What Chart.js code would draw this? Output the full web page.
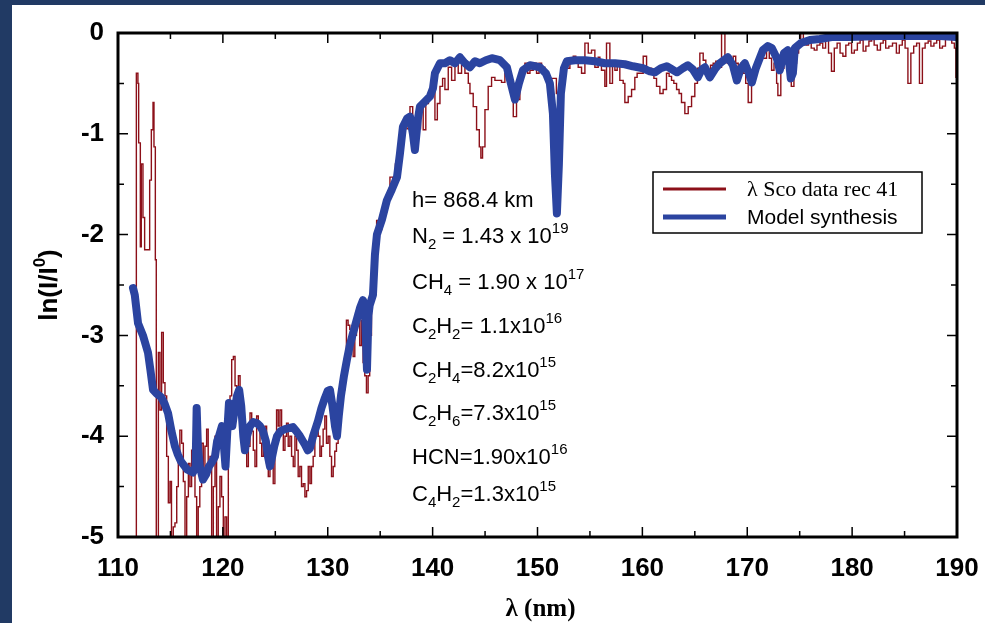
<!DOCTYPE html>
<html>
<head>
<meta charset="utf-8">
<script src="https://cdn.jsdelivr.net/npm/chart.js@4"></script>
<style>
html,body{margin:0;padding:0;}
body{width:985px;height:623px;background:#213a64;overflow:hidden;position:relative;}
#panel{position:absolute;left:12px;top:5px;width:973px;height:618px;background:#fff;}
</style>
</head>
<body>
<div id="panel"><canvas id="specGraph"></canvas></div>
<script>
// lambda Sco occultation spectrum, ln(I/I0) vs wavelength (nm)
var redWave=[111.6,111.75,111.9,111.97,112.13,112.22,112.38,112.54,112.86,113.02,113.18,113.34,113.43,113.56,113.65,113.85,114.0,114.16,114.32,114.48,114.64,114.8,114.96,115.1,115.27,115.43,115.6,115.75,115.9,116.07,116.23,116.39,116.55,116.71,116.86,117.02,117.18,117.34,117.5,117.65,117.8,117.97,118.13,118.29,118.45,118.6,118.77,118.93,119.09,119.25,119.4,119.56,119.72,119.88,120.04,120.2,120.36,120.52,120.68,120.84,121.0,121.16,121.32,121.48,121.64,121.8,121.95,122.11,122.27,122.43,122.59,122.75,122.9,123.06,123.22,123.38,123.54,123.7,123.86,124.02,124.17,124.33,124.49,124.65,124.8,124.96,125.12,125.28,125.44,125.6,125.76,125.92,126.07,126.23,126.39,126.55,126.71,126.87,127.03,127.18,127.34,127.5,127.66,127.82,127.98,128.14,128.3,128.45,128.61,128.77,128.93,129.09,129.25,129.4,129.56,129.72,129.88,130.04,130.2,130.36,130.52,130.67,130.83,130.99,131.15,131.31,131.47,131.63,131.78,131.94,132.1,132.26,132.42,132.58,132.74,132.9,133.05,133.21,133.37,133.53,133.69,133.85,134.0,134.17,134.33,134.48,134.66,134.9,135.15,135.4,135.65,135.93,136.2,136.45,136.72,137.0,137.25,137.55,137.84,138.1,138.35,138.6,138.85,139.1,139.35,139.6,139.9,140.22,140.45,140.7,140.95,141.17,141.49,141.81,142.13,142.44,142.76,143.08,143.4,143.56,143.87,144.19,144.45,144.6,144.76,144.99,145.3,145.62,145.94,146.26,146.57,146.89,147.1,147.37,147.69,148.0,148.32,148.55,148.8,149.05,149.28,149.59,149.91,150.15,150.39,150.7,151.02,151.34,151.8,152.3,152.55,152.77,153.09,153.41,153.65,153.88,154.2,154.52,154.84,155.15,155.47,155.79,155.95,156.1,156.42,156.58,156.9,157.15,157.38,157.6,157.85,158.17,158.33,158.65,158.97,159.28,159.5,159.76,160.08,160.4,160.65,160.87,161.1,161.35,161.67,161.98,162.3,162.55,162.78,163.0,163.26,163.5,163.73,164.05,164.37,164.69,165.0,165.25,165.48,165.8,166.05,166.28,166.5,166.75,167.0,167.23,167.55,167.87,168.1,168.34,168.66,168.9,169.14,169.4,169.61,169.85,170.09,170.41,170.65,170.89,171.2,171.5,171.84,172.1,172.32,172.55,172.8,172.92,173.2,173.5,173.8,174.0,174.2,174.45,174.7,174.9,175.1,175.35,175.6,175.84,176.1,176.39,176.65,176.93,177.2,177.47,177.75,178.03,178.3,178.57,178.85,179.12,179.4,179.67,179.95,180.21,180.5,180.76,181.05,181.31,181.6,181.86,182.1,182.4,182.7,182.96,183.2,183.5,183.85,184.22,184.5,184.78,185.05,185.32,185.6,185.87,186.15,186.42,186.7,186.96,187.25,187.51,187.8,188.06,188.35,188.61,188.9,189.15,189.5,189.75,189.9,190.0];
var redLn=[-6,-0.4,-0.5,-1.09,-2.12,-1.3,-1.83,-2.15,-2.15,-1.46,-0.96,-0.69,-1.13,-2.25,-6,-3.17,-3.74,-2.97,-3.47,-3.6,-4.2,-4.66,-4.45,-6,-4.9,-4.86,-4.5,-4.2,-3.94,-4.07,-4.45,-6,-4.6,-4.27,-4.5,-4.14,-4.3,-4.6,-6,-4.7,-4.5,-4.07,-4.45,-4.1,-3.93,-4.3,-4.2,-6,-4.5,-4.0,-6,-4.7,-4.4,-4.6,-6,-4.8,-6,-4.0,-3.6,-3.24,-3.21,-3.5,-3.74,-3.4,-3.54,-3.9,-4.14,-4.0,-4.3,-4.1,-3.77,-3.95,-4.14,-4.3,-3.8,-3.9,-4.07,-4.2,-4.0,-3.9,-4.27,-4.4,-4.14,-4.3,-4.47,-4.1,-3.74,-3.9,-3.74,-3.95,-4.14,-4.0,-3.87,-4.1,-4.0,-4.2,-4.3,-4.0,-4.14,-4.4,-4.3,-4.5,-4.47,-4.6,-4.54,-4.3,-4.47,-4.3,-4.2,-4.0,-3.87,-4.0,-4.2,-4.1,-3.93,-3.8,-4.07,-4.0,-4.2,-4.4,-4.3,-4.15,-4.07,-3.9,-3.77,-3.6,-3.54,-3.2,-2.85,-2.9,-2.94,-3.0,-3.21,-3.0,-2.9,-2.75,-3.1,-2.85,-3.27,-3.4,-3.57,-3.4,-3.0,-2.6,-2.4,-2.3,-1.86,-1.95,-1.8,-1.72,-1.6,-1.43,-1.48,-1.3,-1.23,-1.05,-0.88,-0.95,-0.73,-0.9,-1.1,-0.95,-0.75,-0.96,-0.7,-0.6,-0.53,-0.86,-0.7,-0.53,-0.45,-0.56,-0.34,-0.47,-0.3,-0.4,-0.3,-0.4,-0.5,-0.6,-0.73,-0.96,-1.13,-1.24,-1.13,-0.76,-0.53,-0.44,-0.47,-0.47,-0.49,-0.4,-0.45,-0.53,-0.83,-0.66,-0.44,-0.35,-0.3,-0.4,-0.37,-0.3,-0.4,-0.3,-0.34,-0.44,-0.5,-0.45,-0.6,-0.45,-0.3,-0.35,-0.27,-0.23,-0.3,-0.34,-0.4,-0.1,-0.2,-0.17,-0.34,-0.24,-0.3,-0.37,-0.53,-0.1,-0.5,-0.3,-0.37,-0.3,-0.47,-0.5,-0.69,-0.63,-0.56,-0.44,-0.4,-0.4,-0.23,-0.37,-0.35,-0.4,-0.45,-0.53,-0.6,-0.56,-0.4,-0.43,-0.47,-0.5,-0.56,-0.6,-0.69,-0.8,-0.73,-0.63,-0.5,-0.35,-0.2,-0.27,-0.35,-0.4,-0.32,-0.3,-0.28,-0.34,0.0,-0.23,-0.3,-0.27,-0.23,-0.3,-0.34,-0.3,-0.4,-0.5,-0.69,-0.47,-0.35,-0.3,-0.2,-0.25,-0.17,-0.25,-0.37,-0.3,-0.5,-0.62,-0.35,-0.25,-0.3,-0.45,-0.53,-0.3,-0.2,-0.12,0.0,-0.08,-0.12,-0.1,-0.15,-0.17,-0.12,-0.1,-0.15,-0.07,-0.2,-0.38,-0.15,-0.1,-0.2,-0.23,-0.12,-0.1,-0.2,-0.17,-0.1,-0.07,-0.18,-0.13,-0.08,-0.05,-0.12,-0.17,-0.1,-0.07,-0.15,-0.13,-0.1,-0.2,-0.12,-0.07,-0.15,-0.5,-0.2,-0.13,-0.1,-0.5,-0.15,-0.1,-0.08,-0.13,-0.1,-0.07,-0.15,-0.13,-0.06,-0.03,-0.1,-0.15,-0.44,-0.44];

var modelWave=[111.43,111.6,111.91,112.38,112.86,113.1,113.34,113.7,114.1,114.45,114.77,115.1,115.43,115.7,116.0,116.58,117.15,117.4,117.5,117.62,117.8,118.1,118.4,118.67,119.0,119.25,119.45,119.63,119.91,120.1,120.25,120.45,120.58,120.75,120.9,121.1,121.35,121.55,121.75,121.95,122.1,122.3,122.58,122.9,123.25,123.55,123.82,124.1,124.3,124.49,124.7,124.9,125.16,125.5,125.92,126.3,126.68,127.0,127.35,127.8,128.1,128.3,128.6,129.07,129.4,129.73,130.0,130.21,130.45,130.69,130.88,131.05,131.26,131.55,131.83,132.1,132.4,132.88,133.1,133.36,133.55,133.74,133.88,134.0,134.31,134.5,134.69,135.17,135.64,136.12,136.6,136.88,137.17,137.55,137.84,138.12,138.31,138.6,138.79,139.27,139.74,140.03,140.22,140.7,141.17,141.65,142.13,142.6,143.08,143.56,144.03,144.5,145.08,145.65,146.42,147.08,147.46,147.85,148.23,148.61,149.28,150.23,150.8,151.18,151.47,151.66,151.85,152.04,152.23,152.52,152.8,153.57,154.52,155.47,156.43,157.38,158.33,159.1,160.05,160.71,161.19,161.76,162.33,162.81,163.29,163.86,164.34,164.81,165.29,165.67,165.96,166.43,166.91,167.39,168.15,168.63,169.01,169.39,169.77,170.15,170.44,170.82,171.49,171.96,172.34,172.82,173.1,173.5,173.87,174.15,174.35,174.54,175.11,175.97,176.92,178.06,179.78,182.64,185.5,188.36,189.9];
var modelLn=[-2.53,-2.6,-2.88,-3.0,-3.17,-3.35,-3.54,-3.58,-3.61,-3.68,-3.77,-3.95,-4.1,-4.18,-4.25,-4.33,-4.36,-4.3,-3.72,-4.1,-4.3,-4.43,-4.38,-4.3,-4.25,-4.2,-4.05,-4.0,-3.9,-4.1,-4.3,-3.9,-3.67,-3.8,-3.9,-3.75,-3.6,-3.54,-3.7,-4.0,-4.14,-4.0,-3.9,-3.86,-3.87,-3.9,-3.95,-4.05,-4.2,-4.3,-4.2,-4.1,-4.0,-3.95,-3.93,-3.92,-3.91,-3.95,-4.0,-4.08,-4.14,-4.12,-4.0,-3.85,-3.72,-3.62,-3.55,-3.54,-3.7,-3.9,-4.0,-3.8,-3.6,-3.4,-3.24,-3.1,-2.98,-2.8,-2.72,-2.65,-2.75,-3.34,-2.8,-2.7,-2.6,-2.2,-2.0,-1.85,-1.66,-1.55,-1.43,-1.2,-0.93,-0.85,-0.83,-1.0,-1.16,-0.85,-0.73,-0.68,-0.63,-0.55,-0.4,-0.3,-0.3,-0.27,-0.3,-0.24,-0.3,-0.34,-0.28,-0.3,-0.27,-0.25,-0.27,-0.34,-0.5,-0.66,-0.5,-0.37,-0.32,-0.34,-0.4,-0.5,-0.8,-1.4,-1.79,-1.3,-0.6,-0.35,-0.28,-0.27,-0.27,-0.28,-0.3,-0.3,-0.31,-0.33,-0.35,-0.38,-0.39,-0.35,-0.33,-0.36,-0.39,-0.35,-0.32,-0.36,-0.44,-0.36,-0.34,-0.44,-0.36,-0.3,-0.24,-0.32,-0.47,-0.35,-0.3,-0.4,-0.49,-0.35,-0.17,-0.13,-0.15,-0.25,-0.37,-0.2,-0.17,-0.45,-0.4,-0.15,-0.1,-0.07,-0.06,-0.04,-0.04,-0.03,-0.03,-0.03,-0.04];

var legendLabels=["\u03bb Sco data rec 41","Model synthesis"];
// [text, "" | "sub" | "sup"]
var annotationLines=[
	[["h= 868.4 km",""]],
	[["N",""],["2","sub"],[" = 1.43 x 10",""],["19","sup"]],
	[["CH",""],["4","sub"],[" = 1.90 x 10",""],["17","sup"]],
	[["C",""],["2","sub"],["H",""],["2","sub"],["= 1.1x10",""],["16","sup"]],
	[["C",""],["2","sub"],["H",""],["4","sub"],["=8.2x10",""],["15","sup"]],
	[["C",""],["2","sub"],["H",""],["6","sub"],["=7.3x10",""],["15","sup"]],
	[["HCN=1.90x10",""],["16","sup"]],
	[["C",""],["4","sub"],["H",""],["2","sub"],["=1.3x10",""],["15","sup"]]
];
var annotationBase=[174,210,256,300,344,387,431,468];

var redColor="#8c1019";
var blueColor="#2b44a0";
var sans="'Liberation Sans', Arial, sans-serif";
var serif="'Liberation Serif', 'Times New Roman', serif";

function toPoints(xs,ys){
	var pts=[];
	for(var i=0;i<xs.length;i++){ pts.push({x:xs[i],y:ys[i]}); }
	return pts;
}

function drawRich(ctx,parts,x,y,size){
	var cx=x;
	for(var i=0;i<parts.length;i++){
		var t=parts[i][0], kind=parts[i][1];
		var dy=0, fs=size;
		if(kind=="sub"){ fs=Math.round(size*0.68); dy=6; }
		if(kind=="sup"){ fs=Math.round(size*0.68); dy=-10; }
		ctx.font=fs+"px "+sans;
		ctx.fillText(t,cx,y+dy);
		cx+=ctx.measureText(t).width;
	}
}

var framePlugin={
	id:"frame",
	afterDatasetsDraw:function(chart){
		var ctx=chart.ctx, a=chart.chartArea, xs=chart.scales.x, ys=chart.scales.y;
		ctx.save();
		ctx.strokeStyle="#000";
		ctx.lineWidth=1.5;
		var v, p, len;
		for(v=110;v<=190;v+=5){
			p=xs.getPixelForValue(v);
			len=(v%10==0)?10:6;
			ctx.beginPath();
			ctx.moveTo(p,a.bottom); ctx.lineTo(p,a.bottom-len);
			ctx.moveTo(p,a.top); ctx.lineTo(p,a.top+len);
			ctx.stroke();
		}
		for(v=0;v<=10;v++){
			p=ys.getPixelForValue(-v/2);
			len=(v%2==0)?10:6;
			ctx.beginPath();
			ctx.moveTo(a.left,p); ctx.lineTo(a.left+len,p);
			ctx.moveTo(a.right,p); ctx.lineTo(a.right-len,p);
			ctx.stroke();
		}
		ctx.lineWidth=3;
		ctx.strokeRect(a.left,a.top,a.right-a.left,a.bottom-a.top);
		ctx.restore();
	},
	afterDraw:function(chart){
		var ctx=chart.ctx, a=chart.chartArea;
		ctx.save();
		ctx.fillStyle="#000";
		ctx.textBaseline="alphabetic";
		ctx.textAlign="left";
		// species labels
		for(var i=0;i<annotationLines.length;i++){
			drawRich(ctx,annotationLines[i],a.left+294,a.top+annotationBase[i],22);
		}
		// legend
		var lx=a.left+535, ly=a.top+139;
		ctx.fillStyle="#fff";
		ctx.fillRect(lx,ly,269,61);
		ctx.strokeStyle="#000";
		ctx.lineWidth=1.5;
		ctx.strokeRect(lx,ly,269,61);
		ctx.lineWidth=3;
		ctx.strokeStyle=redColor;
		ctx.beginPath(); ctx.moveTo(lx+10,ly+17); ctx.lineTo(lx+73,ly+17); ctx.stroke();
		ctx.lineWidth=5;
		ctx.strokeStyle=blueColor;
		ctx.beginPath(); ctx.moveTo(lx+10,ly+45); ctx.lineTo(lx+73,ly+45); ctx.stroke();
		ctx.fillStyle="#000";
		ctx.font="22px "+serif;
		ctx.fillText(legendLabels[0],lx+94,ly+24);
		ctx.font="21px "+sans;
		ctx.fillText(legendLabels[1],lx+94,ly+52);
		// x title
		ctx.textAlign="center";
		ctx.font="bold 25px "+serif;
		ctx.fillText("\u03bb (nm)",(a.left+a.right)/2+3,611);
		// y title, rotated
		ctx.translate(45,(a.top+a.bottom)/2);
		ctx.rotate(-Math.PI/2);
		ctx.textAlign="left";
		var parts=[["ln(I/I",26],["0",17],[")",26]];
		var w=0;
		for(var j=0;j<parts.length;j++){ ctx.font="bold "+parts[j][1]+"px "+sans; w+=ctx.measureText(parts[j][0]).width; }
		var cx=-w/2;
		for(j=0;j<parts.length;j++){
			ctx.font="bold "+parts[j][1]+"px "+sans;
			ctx.fillText(parts[j][0],cx,parts[j][1]==17?-12:0);
			cx+=ctx.measureText(parts[j][0]).width;
		}
		ctx.restore();
	}
};

var tickFont={family:sans,size:26,weight:"bold"};
var ctx1=document.getElementById("specGraph").getContext("2d");
var specChart=new Chart(ctx1,{
	type:"line",
	data:{
		datasets:[
			{
				label:legendLabels[1],
				data:toPoints(modelWave,modelLn),
				borderColor:blueColor,
				borderWidth:8,
				pointRadius:0,
				fill:false,
				tension:0,
				borderJoinStyle:"round",
				borderCapStyle:"round"
			},
			{
				label:legendLabels[0],
				data:toPoints(redWave,redLn),
				borderColor:redColor,
				borderWidth:1.4,
				pointRadius:0,
				fill:false,
				stepped:true
			}]
	},
	options:{
		responsive:true,
		maintainAspectRatio:false,
		animation:false,
		layout:{padding:{top:28,right:28,left:0,bottom:0}},
		plugins:{legend:{display:false},tooltip:{enabled:false}},
		scales:{
			x:{
				type:"linear",min:110,max:190,
				grid:{display:false,drawTicks:false},
				border:{display:false},
				ticks:{stepSize:10,font:tickFont,color:"#000",padding:16,maxRotation:0},
				afterFit:function(s){ s.height=86; s.paddingLeft=0; s.paddingRight=0; }
			},
			y:{
				type:"linear",min:-5,max:0,
				grid:{display:false,drawTicks:false},
				border:{display:false},
				ticks:{stepSize:1,font:tickFont,color:"#000",padding:14},
				afterFit:function(s){ s.width=106; s.paddingTop=0; s.paddingBottom=0; }
			}
		}
	},
	plugins:[framePlugin]
});
</script>
</body>
</html>
